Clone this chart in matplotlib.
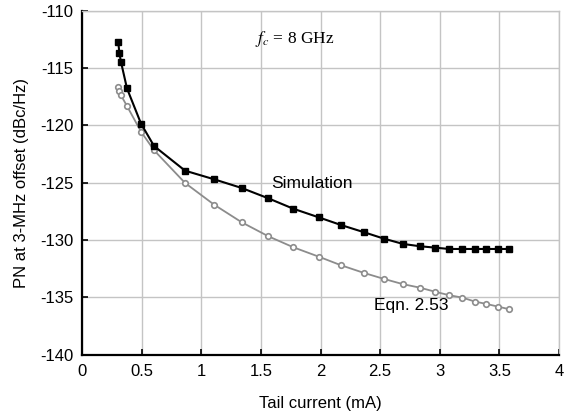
import matplotlib.pyplot as plt

plt.rcParams["font.family"] = ["Liberation Sans", "DejaVu Sans"]
plt.rcParams["axes.unicode_minus"] = False

# tail current sweep (mA) and phase noise at 3 MHz offset (dBc/Hz)
sim_current = [0.304, 0.313, 0.327, 0.377, 0.495, 0.604, 0.864, 1.107, 1.339, 1.562,
               1.772, 1.985, 2.172, 2.365, 2.532, 2.692, 2.832, 2.958, 3.078, 3.189,
               3.296, 3.390, 3.486, 3.581]
sim_pn = [-112.70, -113.66, -114.47, -116.77, -119.85, -121.80, -123.95, -124.70,
          -125.46, -126.36, -127.27, -128.02, -128.69, -129.32, -129.88, -130.34,
          -130.54, -130.66, -130.78, -130.78, -130.78, -130.78, -130.78, -130.78]

eqn_current = sim_current
eqn_pn = [-116.68, -116.97, -117.38, -118.31, -120.55, -122.17, -125.02, -126.91,
          -128.45, -129.67, -130.63, -131.45, -132.20, -132.87, -133.39, -133.85,
          -134.15, -134.50, -134.81, -135.02, -135.37, -135.57, -135.80, -136.03]

x_ticks = [0, 0.5, 1, 1.5, 2, 2.5, 3, 3.5, 4]
x_tick_labels = ["0", "0.5", "1", "1.5", "2", "2.5", "3", "3.5", "4"]
y_ticks = [-140, -135, -130, -125, -120, -115, -110]

fig = plt.figure(figsize=(5.66, 4.18), dpi=100)
ax = fig.add_axes([82 / 566, 1 - 354.7 / 418, (559 - 82) / 566, (354.7 - 10.7) / 418])

ax.plot(eqn_current, eqn_pn, color="#8c8c8c", lw=1.3, marker="o", ms=4,
        mfc="white", mec="#8c8c8c", mew=1.2, zorder=3)
ax.plot(sim_current, sim_pn, color="black", lw=1.5, marker="s", ms=5,
        mfc="black", mec="black", zorder=4)

ax.set_xlim(0, 4)
ax.set_ylim(-140, -110)
ax.set_xticks(x_ticks)
ax.set_xticklabels(x_tick_labels)
ax.set_yticks(y_ticks)
ax.grid(True, color="#c4c4c4", lw=1.0)
ax.set_axisbelow(True)

for side in ("top", "right"):
    ax.spines[side].set_color("#c4c4c4")
    ax.spines[side].set_linewidth(1.0)
for side in ("left", "bottom"):
    ax.spines[side].set_color("black")
    ax.spines[side].set_linewidth(1.6)

ax.tick_params(direction="in", length=4, width=1.2, labelsize=12)
ax.tick_params(axis="y", pad=6)
ax.tick_params(axis="x", pad=7)

ax.set_xlabel("Tail current (mA)", fontsize=12, labelpad=12)
ax.set_ylabel("PN at 3-MHz offset (dBc/Hz)", fontsize=12, labelpad=8)

ax.text(1.45, -112.47, r"$f_c$ = 8 GHz", fontsize=12.5, va="center", ha="left",
        family="Liberation Serif", math_fontfamily="stix")
ax.text(1.59, -125.05, "Simulation", fontsize=12.5, va="center", ha="left")
ax.text(2.45, -135.75, "Eqn. 2.53", fontsize=12.5, va="center", ha="left")

fig.savefig("out.png", dpi=100)
